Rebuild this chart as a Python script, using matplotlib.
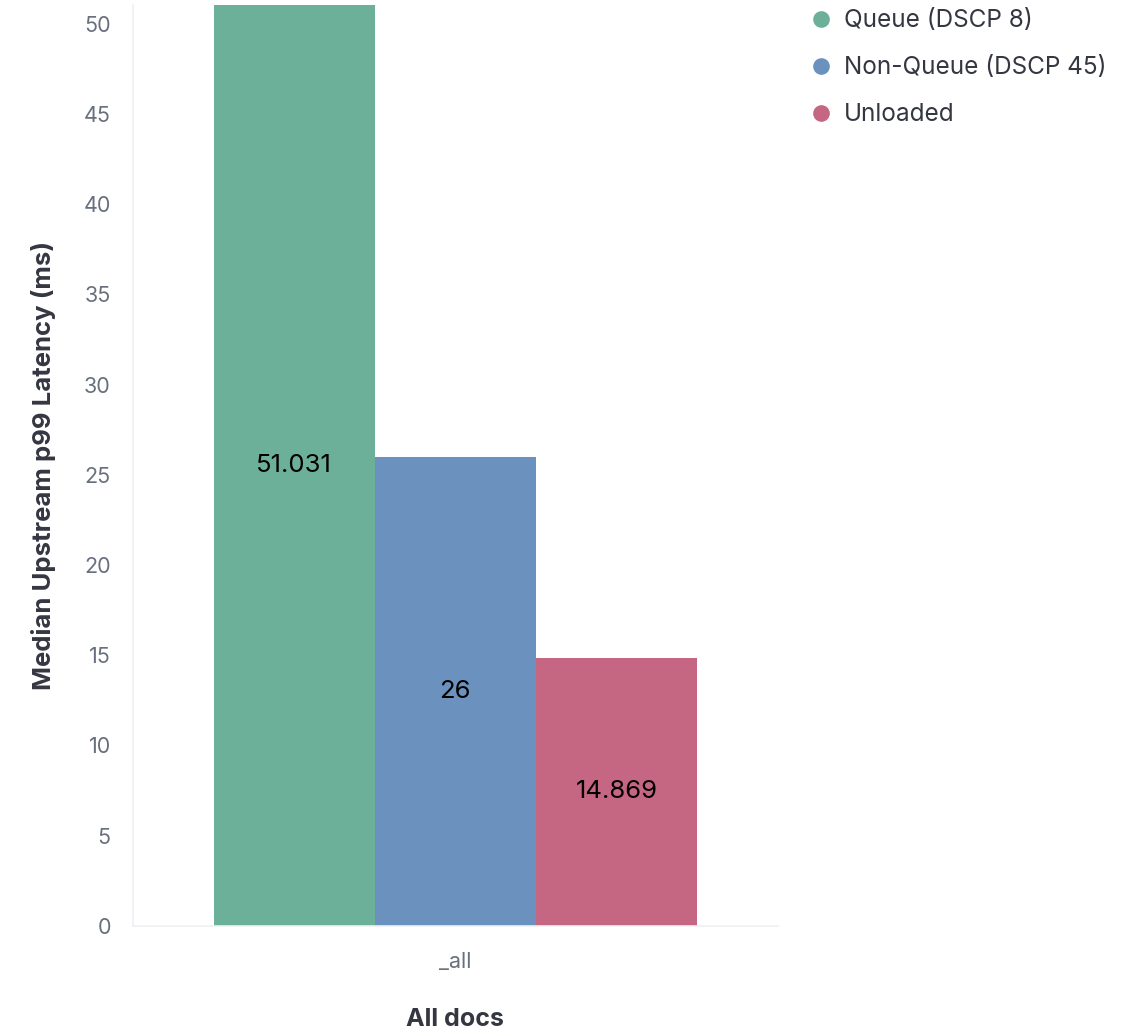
import matplotlib
matplotlib.use("Agg")
import matplotlib.pyplot as plt
from matplotlib.lines import Line2D

plt.rcParams['font.family'] = ['Inter', 'DejaVu Sans']

categories = ["_all"]
series_names = ["Queue (DSCP 8)", "Non-Queue (DSCP 45)", "Unloaded"]
series_values = [51.031, 26, 14.869]
value_labels = ["51.031", "26", "14.869"]
colors = ["#6DB09A", "#6B91BE", "#C56782"]
y_ticks = [0, 5, 10, 15, 20, 25, 30, 35, 40, 45, 50]

fig = plt.figure(figsize=(11.27, 10.33), dpi=100)
ax = fig.add_axes([0.118, 0.1036, 0.572, 0.8916])

bar_w = 0.25
n = len(series_values)
for i, (name, v, c, lab) in enumerate(zip(series_names, series_values, colors, value_labels)):
    x = (i - (n - 1) / 2) * bar_w
    ax.bar(x, v, width=bar_w, color=c, edgecolor='none', label=name)
    ax.text(x, v / 2, lab, ha='center', va='center', fontsize=18.5, color='black')

ax.set_xlim(-0.5, 0.5)
ax.set_ylim(0, max(series_values))
ax.set_yticks(y_ticks)
ax.set_xticks([0])
ax.set_xticklabels(categories)
ax.tick_params(axis='both', length=0, labelsize=15.5, colors='#69707D')
ax.tick_params(axis='y', pad=16)
ax.tick_params(axis='x', pad=19)
for s in ['top', 'right']:
    ax.spines[s].set_visible(False)
for s in ['left', 'bottom']:
    ax.spines[s].set_color('#EEF0F3')
    ax.spines[s].set_linewidth(1.2)

ax.set_ylabel("Median Upstream p99 Latency (ms)", fontsize=18.5, fontweight='bold', color='#343741', labelpad=20)
ax.set_xlabel("All docs", fontsize=18, fontweight='bold', color='#343741', labelpad=26)

handles = [Line2D([0], [0], marker='o', linestyle='none', markersize=12,
                  markerfacecolor=c, markeredgecolor='none') for c in colors]
leg = fig.legend(handles, series_names, loc='upper left', bbox_to_anchor=(0.698, 1.012),
                 frameon=False, fontsize=17.5, labelspacing=0.98, handletextpad=0.45,
                 handlelength=1.0, labelcolor='#343741')

fig.savefig("out.png", dpi=100, facecolor='white')
